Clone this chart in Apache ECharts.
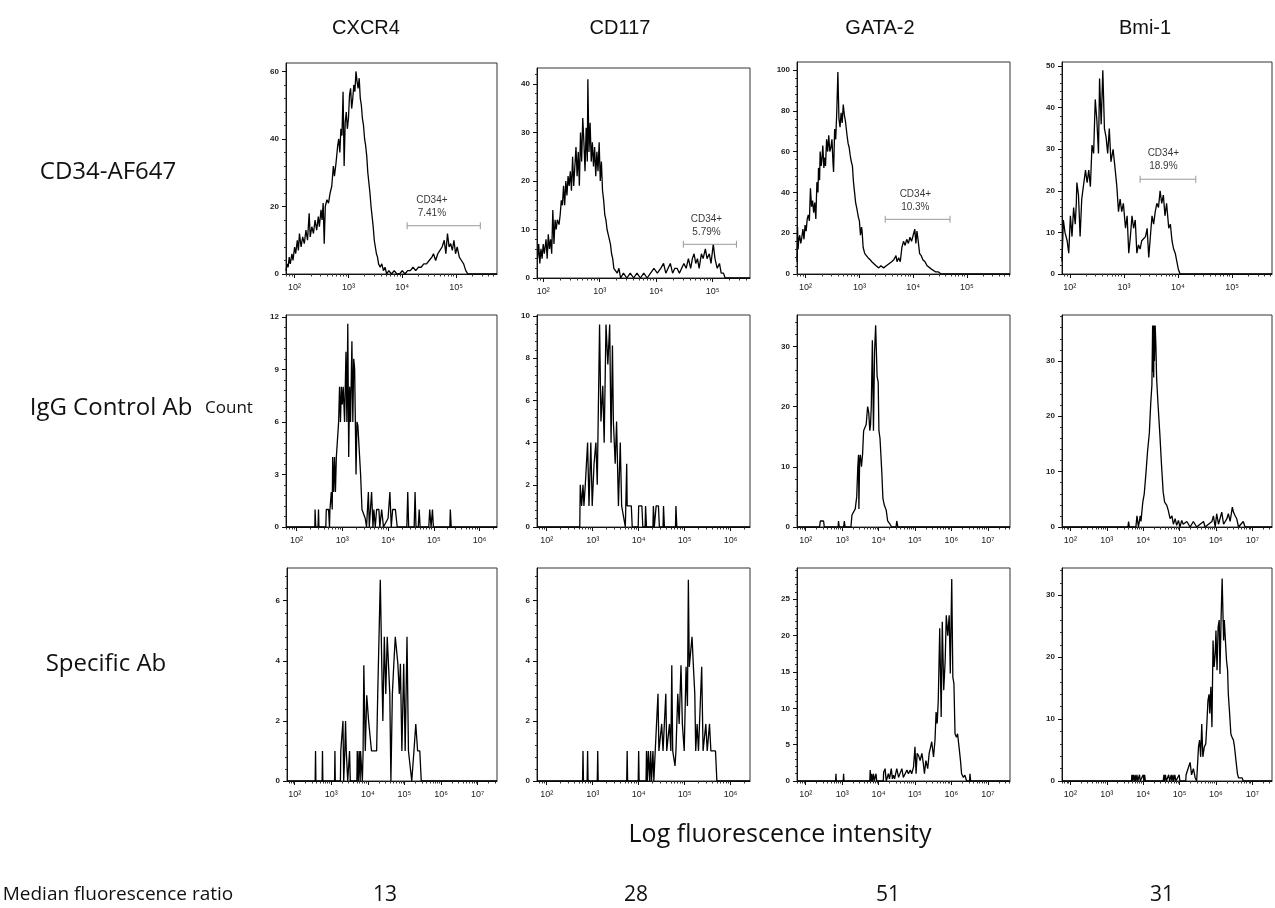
<!DOCTYPE html>
<html><head><meta charset="utf-8">
<script src="https://cdn.jsdelivr.net/npm/echarts@6/dist/echarts.min.js"></script>
<style>html,body{margin:0;padding:0;background:#fff}#c{width:1275px;height:908px}</style>
</head><body><div id="c"></div><script>
// ---------------- text ----------------
const markers = ['CXCR4', 'CD117', 'GATA-2', 'Bmi-1'];
const rowLabels = ['CD34-AF647', 'IgG Control Ab', 'Specific Ab'];
const medianRatio = ['13', '28', '51', '31'];
const yTitle = 'Count';
const xTitle = 'Log fluorescence intensity';
const ratioTitle = 'Median fluorescence ratio';

// ---------------- axis ticks (decade exponents for x, counts for y) ----------------
const yTicks = [[0,20,40,60],[0,10,20,30,40],[0,20,40,60,80,100],[0,10,20,30,40,50],
                [0,3,6,9,12],[0,2,4,6,8,10],[0,10,20,30],[0,10,20,30],
                [0,2,4,6],[0,2,4,6],[0,5,10,15,20,25],[0,10,20,30]];
const yMax = [62.5,43.3,103.9,51,12.1,10.05,35.2,38.3,7.09,7.09,29.3,34.4];
const yStep = [20,10,20,10,3,2,10,10,2,2,5,10];
const xDecades = [[2,3,4,5],[2,3,4,5],[2,3,4,5],[2,3,4,5],
                  [2,3,4,5,6],[2,3,4,5,6],[2,3,4,5,6,7],[2,3,4,5,6,7],
                  [2,3,4,5,6,7],[2,3,4,5,6],[2,3,4,5,6,7],[2,3,4,5,6,7]];
const xRange = [[1.84,5.76],[1.89,5.66],[1.84,5.80],[1.855,5.74],
                [1.77,6.38],[1.79,6.42],[1.76,7.61],[1.77,7.54],
                [1.79,7.53],[1.79,6.42],[1.76,7.61],[1.77,7.54]];

// ---------------- gates (row 1) ----------------
const gateLabels = ['CD34+\n7.41%', 'CD34+\n5.79%', 'CD34+\n10.3%', 'CD34+\n18.9%'];
const gateFrom = [4.09, 4.48, 3.48, 3.30];
const gateTo = [5.45, 5.42, 4.685, 4.33];
const gateCount = [14.3, 6.95, 26.8, 22.8];
const gateTextX = [4.55, 4.89, 4.04, 3.73];

// ---------------- histograms: [log10 intensity, count] ----------------
const cxcr4_cd34 = [[1.84,1],[1.86,3],[1.88,2],[1.90,5],[1.92,3],[1.95,6],[1.97,4],[2.00,8],[2.02,6],[2.05,10],[2.07,7],[2.09,12],[2.12,8],[2.15,11],[2.18,9],[2.21,13],[2.24,10],[2.27,18],[2.29,11],[2.32,14],[2.35,12],[2.38,16],[2.41,13],[2.44,17],[2.46,14],[2.49,19],[2.51,16],[2.53,21],[2.55,9],[2.57,20],[2.60,22],[2.63,21],[2.66,24],[2.69,26],[2.72,32],[2.74,29],[2.77,33],[2.80,38],[2.82,40],[2.84,36],[2.86,43],[2.88,41],[2.90,54],[2.92,32],[2.94,45],[2.96,48],[2.98,43],[3.00,46],[3.02,53],[3.04,55],[3.06,49],[3.08,52],[3.10,56],[3.12,54],[3.14,60],[3.16,57],[3.18,55],[3.20,58],[3.22,52],[3.24,50],[3.26,46],[3.28,44],[3.30,40],[3.32,38],[3.34,35],[3.36,30],[3.38,27],[3.40,24],[3.42,20],[3.44,17],[3.46,14],[3.48,10],[3.50,8],[3.52,6],[3.54,5],[3.56,3],[3.59,2],[3.62,3],[3.65,1],[3.68,2],[3.71,0],[3.75,1],[3.80,0],[3.85,1],[3.90,0],[3.95,0],[4.00,1],[4.05,0],[4.10,1],[4.15,1],[4.20,2],[4.25,1],[4.30,2],[4.35,2],[4.40,3],[4.45,3],[4.50,4],[4.55,5],[4.58,6],[4.62,4],[4.66,6],[4.70,7],[4.74,8],[4.78,10],[4.81,6],[4.84,12],[4.87,8],[4.90,9],[4.93,7],[4.96,10],[4.99,6],[5.02,8],[5.06,5],[5.10,4],[5.14,3],[5.18,1],[5.22,0],[5.76,0]];
const cd117_cd34 = [[1.90,4],[1.92,7],[1.94,3],[1.96,6],[1.98,4],[2.00,7],[2.02,5],[2.05,8],[2.07,4],[2.09,9],[2.11,6],[2.13,8],[2.15,5],[2.17,14],[2.19,7],[2.21,12],[2.23,10],[2.25,12],[2.28,11],[2.30,13],[2.32,16],[2.34,15],[2.36,19],[2.38,15],[2.40,20],[2.42,17],[2.44,21],[2.46,19],[2.48,22],[2.50,18],[2.52,25],[2.54,19],[2.56,23],[2.58,27],[2.60,21],[2.62,26],[2.64,19],[2.66,30],[2.68,24],[2.70,33],[2.72,28],[2.74,22],[2.76,31],[2.78,24],[2.79,41],[2.81,26],[2.83,32],[2.85,24],[2.87,28],[2.89,23],[2.91,27],[2.93,21],[2.95,26],[2.97,22],[2.99,28],[3.01,20],[3.03,24],[3.05,18],[3.07,16],[3.09,13],[3.11,12],[3.13,10],[3.15,9],[3.17,9],[3.19,7],[3.21,5],[3.23,4],[3.25,2],[3.28,2],[3.31,1],[3.34,2],[3.37,0],[3.42,1],[3.48,0],[3.54,1],[3.60,0],[3.66,1],[3.72,0],[3.78,1],[3.84,0],[3.90,1],[3.96,2],[4.02,1],[4.08,2],[4.13,3],[4.17,1],[4.21,2],[4.25,3],[4.29,1],[4.33,2],[4.37,2],[4.41,1],[4.45,2],[4.49,3],[4.53,2],[4.57,4],[4.61,2],[4.64,4],[4.67,5],[4.70,3],[4.73,4],[4.76,2],[4.80,5],[4.83,4],[4.87,6],[4.90,4],[4.94,5],[4.97,3],[5.01,7],[5.04,4],[5.08,2],[5.12,3],[5.15,1],[5.19,1],[5.22,0],[5.66,0]];
const gata2_cd34 = [[1.84,6],[1.85,23],[1.86,12],[1.87,16],[1.89,19],[1.91,15],[1.93,18],[1.95,22],[1.97,17],[1.99,24],[2.01,21],[2.03,27],[2.05,29],[2.07,26],[2.09,42],[2.11,33],[2.13,36],[2.15,30],[2.17,35],[2.19,27],[2.21,45],[2.23,40],[2.24,52],[2.26,46],[2.27,60],[2.29,53],[2.30,55],[2.32,63],[2.34,52],[2.35,57],[2.37,53],[2.39,66],[2.41,60],[2.43,68],[2.45,60],[2.47,62],[2.49,66],[2.51,54],[2.52,50],[2.54,71],[2.56,66],[2.58,80],[2.60,99],[2.62,76],[2.64,72],[2.66,79],[2.68,74],[2.70,83],[2.72,78],[2.74,75],[2.77,68],[2.79,64],[2.81,62],[2.83,58],[2.85,55],[2.87,53],[2.89,45],[2.91,40],[2.93,35],[2.96,31],[2.98,28],[3.00,26],[3.02,19],[3.04,23],[3.05,21],[3.07,13],[3.10,10],[3.13,9],[3.16,8],[3.20,7],[3.23,6],[3.27,5],[3.31,4],[3.36,3],[3.40,4],[3.45,3],[3.50,4],[3.55,5],[3.60,6],[3.64,7],[3.68,9],[3.70,6],[3.73,8],[3.76,6],[3.79,13],[3.82,16],[3.85,14],[3.88,17],[3.91,15],[3.94,18],[3.97,16],[4.00,19],[4.03,22],[4.05,15],[4.07,21],[4.09,17],[4.12,10],[4.15,9],[4.18,7],[4.22,6],[4.26,4],[4.31,3],[4.36,2],[4.42,1],[4.47,1],[4.52,0],[5.80,0]];
const bmi1_cd34 = [[1.855,3],[1.88,13],[1.91,10],[1.95,8],[1.98,5],[2.01,14],[2.04,9],[2.07,16],[2.10,12],[2.12,17],[2.13,22],[2.16,19],[2.19,9],[2.22,18],[2.25,21],[2.29,25],[2.32,22],[2.35,25],[2.38,21],[2.41,31],[2.44,29],[2.47,42],[2.50,37],[2.53,29],[2.55,47],[2.58,36],[2.61,49],[2.64,35],[2.67,33],[2.70,29],[2.73,35],[2.76,27],[2.80,30],[2.84,25],[2.87,21],[2.90,15],[2.93,18],[2.96,15],[2.99,17],[3.03,11],[3.06,14],[3.09,5],[3.12,9],[3.15,14],[3.18,11],[3.21,13],[3.24,5],[3.27,7],[3.30,6],[3.33,8],[3.40,9],[3.43,11],[3.46,4],[3.52,14],[3.55,12],[3.58,15],[3.61,17],[3.64,16],[3.67,20],[3.70,17],[3.73,19],[3.76,14],[3.79,17],[3.83,11],[3.86,12],[3.89,8],[3.92,6],[3.95,5],[3.98,3],[4.01,1],[4.04,0],[5.74,0]];
const cxcr4_igg = [[1.77,0],[2.40,0],[2.405,1],[2.42,0],[2.47,0],[2.48,1],[2.49,0],[2.64,0],[2.65,1],[2.70,1],[2.72,0],[2.73,1],[2.76,2],[2.78,1],[2.79,4],[2.81,2],[2.83,4],[2.85,2],[2.87,4],[2.89,4],[2.92,6],[2.94,8],[2.96,6],[2.98,8],[3.00,7],[3.02,8],[3.05,6],[3.08,10],[3.10,6],[3.12,11.6],[3.14,4],[3.16,8],[3.18,6],[3.21,10.6],[3.23,6],[3.25,9.6],[3.27,9],[3.30,3],[3.32,6],[3.34,5.8],[3.37,5.8],[3.40,3],[3.43,1],[3.47,1],[3.50,0.5],[3.53,0],[3.57,2],[3.59,0],[3.64,2],[3.67,0],[3.69,1],[3.72,0],[3.75,1],[3.80,1],[3.82,0],[3.86,1],[3.90,0],[4.00,0.5],[4.04,2],[4.07,0],[4.10,1],[4.16,1],[4.20,0],[4.41,0],[4.43,2],[4.45,0],[4.57,0],[4.59,2],[4.61,0],[4.66,0],[4.68,1],[4.70,0],[4.89,0],[4.91,1],[4.94,0],[4.97,1],[4.99,0],[5.35,0],[5.36,1],[5.38,0],[6.38,0]];
const cd117_igg = [[1.79,0],[2.72,0],[2.73,2],[2.76,1],[2.79,2],[2.81,1],[2.84,2],[2.89,4],[2.92,1],[2.96,4],[2.99,1],[3.03,3],[3.07,4],[3.10,2],[3.15,9.6],[3.18,5],[3.22,6.7],[3.25,4],[3.29,9.6],[3.33,7.7],[3.37,9.6],[3.40,4],[3.43,8.6],[3.45,5],[3.49,3],[3.52,5],[3.56,1],[3.60,4],[3.63,1],[3.67,1],[3.71,0],[3.74,3],[3.75,1],[3.84,1],[3.86,0],[3.99,0],[4.00,1],[4.07,1],[4.09,0],[4.14,0],[4.15,1],[4.17,0],[4.31,0],[4.32,1],[4.34,0],[4.37,0],[4.38,1],[4.43,1],[4.45,0],[4.53,0],[4.54,1],[4.56,0],[4.80,0],[4.81,1],[4.83,0],[6.42,0]];
const gata2_igg = [[1.76,0],[2.38,0],[2.40,1],[2.45,1],[2.49,1],[2.51,0],[2.89,0],[2.90,1],[2.92,0],[3.04,0],[3.06,1],[3.08,0],[3.24,0],[3.27,2],[3.31,2],[3.36,3],[3.40,5],[3.43,10],[3.45,12],[3.46,3],[3.48,11],[3.50,12],[3.53,10],[3.56,12],[3.59,16],[3.63,16],[3.66,17],[3.70,20],[3.73,19],[3.76,16],[3.78,17],[3.80,20],[3.83,31],[3.86,16],[3.89,29],[3.92,33.5],[3.96,25],[3.99,24],[4.01,16],[4.04,14.7],[4.09,9],[4.12,4.7],[4.16,3.6],[4.21,2.8],[4.25,1],[4.31,0.5],[4.36,0],[4.48,0],[4.50,1],[4.53,0],[7.61,0]];
const bmi1_igg = [[1.77,0],[3.58,0],[3.60,1],[3.62,0],[3.80,0],[3.83,2],[3.87,0],[3.92,2],[3.94,1],[3.99,4.5],[4.03,6],[4.08,10],[4.12,13.6],[4.17,17],[4.21,22.6],[4.24,25.6],[4.26,36.4],[4.27,28],[4.28,36.4],[4.29,27],[4.30,36.4],[4.31,30],[4.33,36.4],[4.35,32.8],[4.37,26.8],[4.41,22],[4.46,16.6],[4.50,11.7],[4.55,6.3],[4.59,4.5],[4.65,3.9],[4.69,3],[4.74,1.5],[4.79,2],[4.83,0.5],[4.88,1.5],[4.92,0.3],[4.97,1.2],[5.01,0],[5.06,1.2],[5.10,0.5],[5.20,1],[5.29,0],[5.38,1],[5.47,0],[5.66,1],[5.70,0],[5.89,1],[5.93,2],[5.98,0],[6.02,2.4],[6.07,0.5],[6.16,2.7],[6.21,0.5],[6.30,1.5],[6.34,2.4],[6.39,1],[6.45,3.6],[6.48,2.7],[6.53,2],[6.57,1.5],[6.62,0],[6.75,1],[6.80,0],[7.54,0]];
const cxcr4_specific = [[1.79,0],[2.56,0],[2.57,1],[2.58,0],[2.75,0],[2.76,1],[2.77,0],[3.09,0],[3.10,1],[3.11,0],[3.25,0],[3.26,1],[3.29,1],[3.32,2],[3.34,0],[3.37,1],[3.39,2],[3.41,1],[3.45,0],[3.50,1],[3.52,0],[3.70,0],[3.71,1],[3.74,0],[3.76,1],[3.79,0],[3.80,1],[3.83,1],[3.85,0],[3.87,1],[3.89,3.85],[3.93,1],[3.97,2.85],[4.02,2],[4.06,2],[4.10,1],[4.13,1],[4.17,1],[4.24,1],[4.27,2.9],[4.34,6.7],[4.38,3.9],[4.41,2],[4.45,4.8],[4.49,2.9],[4.53,4.8],[4.56,4.8],[4.60,2.9],[4.63,0],[4.67,2.9],[4.71,3.9],[4.75,4.8],[4.79,4.8],[4.82,3.9],[4.86,2.9],[4.89,3.9],[4.93,1],[4.98,3.9],[5.02,1],[5.07,4.8],[5.11,1],[5.15,1],[5.20,0],[5.26,1],[5.31,1.9],[5.36,1],[5.42,1],[5.46,0],[7.53,0]];
const cd117_specific = [[1.79,0],[2.78,0],[2.79,1],[2.80,0],[2.88,0],[2.89,1],[2.90,0],[3.10,0],[3.11,1],[3.12,0],[3.74,0],[3.75,1],[3.76,0],[3.99,0],[4.00,1],[4.01,0],[4.16,0],[4.17,1],[4.19,0],[4.21,1],[4.24,0],[4.26,1],[4.28,0],[4.31,1],[4.33,0],[4.36,1],[4.38,1],[4.42,2.9],[4.44,1],[4.45,1],[4.50,1.9],[4.53,1],[4.54,1],[4.59,2.9],[4.61,1],[4.63,1],[4.67,1.9],[4.70,1],[4.72,3.85],[4.74,1],[4.76,1],[4.79,0.5],[4.81,1],[4.85,2.9],[4.88,1.9],[4.92,3.85],[4.95,1.9],[4.99,1],[5.03,3.8],[5.06,2.5],[5.08,6.7],[5.10,3.8],[5.13,3.8],[5.16,4.8],[5.19,3.8],[5.22,2.9],[5.24,1],[5.27,1.9],[5.30,1],[5.33,1],[5.37,3.8],[5.40,1],[5.46,1.9],[5.49,1],[5.54,1.9],[5.57,1],[5.62,1],[5.67,1],[5.70,0],[6.42,0]];
const gata2_specific = [[1.76,0],[2.82,0],[2.83,1],[2.84,0],[3.03,0],[3.04,1],[3.05,0],[3.76,0],[3.77,1.5],[3.79,0],[3.81,1],[3.83,0],[3.86,1],[3.88,0],[3.93,1],[3.95,0],[4.13,0],[4.14,1.2],[4.18,1.7],[4.21,0],[4.27,1],[4.30,0.3],[4.35,1.7],[4.38,0.3],[4.41,0.8],[4.44,0.3],[4.50,1.7],[4.55,0.5],[4.64,1.7],[4.68,0.5],[4.73,1],[4.78,1.5],[4.82,1],[4.87,1.5],[4.91,1],[4.96,1.9],[5.00,4.7],[5.03,1],[5.06,3.8],[5.10,3.5],[5.14,2.8],[5.19,3.8],[5.23,2.4],[5.26,1],[5.30,2.8],[5.35,1.7],[5.39,3.8],[5.43,4.7],[5.46,5.4],[5.51,3.3],[5.55,5.6],[5.58,9.5],[5.61,7.9],[5.64,11.1],[5.68,21],[5.72,8.8],[5.75,21.9],[5.79,12.5],[5.83,16.6],[5.86,22.8],[5.90,20],[5.94,22.8],[5.97,14.8],[6.01,27.8],[6.04,14.3],[6.07,13.4],[6.10,6.5],[6.14,6],[6.17,6.5],[6.21,4.7],[6.25,2.8],[6.28,1],[6.33,0.5],[6.37,0.8],[6.42,0],[6.50,0],[6.51,1],[6.53,0],[7.61,0]];
const bmi1_specific = [[1.77,0],[3.68,0],[3.69,1],[3.71,0],[3.73,1],[3.76,0],[3.78,1],[3.80,0],[3.83,1],[3.85,0],[3.90,1],[3.92,0],[4.00,1],[4.02,0],[4.04,1],[4.06,0],[4.55,0],[4.57,1],[4.59,0],[4.61,1],[4.64,0],[4.70,1],[4.73,0],[4.77,1],[4.79,0],[4.82,1],[4.84,0],[4.87,1],[4.90,0],[4.99,1],[5.01,0],[5.17,0],[5.18,1],[5.25,2.3],[5.29,3],[5.33,1],[5.38,2],[5.43,0.5],[5.47,0],[5.52,5.5],[5.55,6.6],[5.58,3.9],[5.61,9.2],[5.64,3.9],[5.68,5.5],[5.72,6],[5.75,9.2],[5.78,13],[5.81,14],[5.83,10.9],[5.86,15.2],[5.89,8.7],[5.92,22.7],[5.95,18.4],[5.98,20.6],[6.00,24.3],[6.03,17.9],[6.06,24.9],[6.09,26],[6.11,17.3],[6.14,26],[6.17,32.7],[6.21,22.7],[6.23,26],[6.26,22.7],[6.29,19.5],[6.32,17.9],[6.34,14],[6.37,11.4],[6.41,7.6],[6.44,7.1],[6.48,6.6],[6.51,5.5],[6.55,3.3],[6.59,1.2],[6.62,0.5],[6.66,0.8],[6.72,0.5],[6.75,0],[7.54,0]];

const histograms = [cxcr4_cd34, cd117_cd34, gata2_cd34, bmi1_cd34,
                    cxcr4_igg, cd117_igg, gata2_igg, bmi1_igg,
                    cxcr4_specific, cd117_specific, gata2_specific, bmi1_specific];

// ---------------- layout ----------------
const gridBoxes = [[286,63,211,211],[537,68,213,210],[797,62,213,212],[1062,62,210,212],
                   [286,315,211,212],[537,315,213,212],[797,315,213,212],[1062,315,210,212],
                   [287,568,210,213],[537,568,213,213],[797,568,213,213],[1062,568,210,213]];
const SUP = {2:'\u00B2',3:'\u00B3',4:'\u2074',5:'\u2075',6:'\u2076',7:'\u2077'};
const axisFont = 'Liberation Sans, DejaVu Sans, Arial, sans-serif';

const chart = echarts.init(document.getElementById('c'), null, {renderer: 'canvas'});
const grid = [], xAxis = [], yAxis = [], series = [];
gridBoxes.forEach((b, i) => {
  grid.push({left: b[0], top: b[1], width: b[2], height: b[3], show: true,
             borderColor: '#333', borderWidth: 1, backgroundColor: 'transparent', containLabel: false});
  const [lo, hi] = xRange[i];
  const minor = [];
  for (let n = 1; n <= 7; n++) for (let k = 2; k <= 9; k++) {
    const v = n + Math.log10(k);
    if (v > lo && v < hi) minor.push(v);
  }
  xAxis.push({gridIndex: i, type: 'value', min: lo, max: hi, position: 'bottom',
    axisLine: {show: true, lineStyle: {color: '#111', width: 1}},
    axisTick: {show: true, length: 4, customValues: xDecades[i], lineStyle: {color: '#111'}},
    axisLabel: {show: true, customValues: xDecades[i], margin: 9, fontSize: 9, color: '#222',
                fontFamily: axisFont, formatter: v => '10' + SUP[Math.round(v)]},
    splitLine: {show: false}});
  xAxis.push({gridIndex: i, type: 'value', min: lo, max: hi, position: 'bottom',
    axisLine: {show: false},
    axisTick: {show: true, length: 2.5, customValues: minor, lineStyle: {color: '#333'}},
    axisLabel: {show: false}, splitLine: {show: false}});
  yAxis.push({gridIndex: i, type: 'value', min: 0, max: yMax[i], interval: yStep[i],
    axisLine: {show: true, lineStyle: {color: '#111', width: 1}},
    axisTick: {show: true, length: 4, customValues: yTicks[i], lineStyle: {color: '#111'}},
    minorTick: {show: true, splitNumber: 5, length: 2, lineStyle: {color: '#333'}},
    axisLabel: {show: true, customValues: yTicks[i], margin: 7, fontSize: 8, fontWeight: 'bold',
                color: '#222', fontFamily: axisFont},
    splitLine: {show: false}, minorSplitLine: {show: false}});
  series.push({type: 'line', xAxisIndex: 2 * i, yAxisIndex: i, data: histograms[i],
    showSymbol: false, symbol: 'none', animation: false, clip: true,
    lineStyle: {color: '#000', width: 1.3}});
});

// gates in row 1
for (let i = 0; i < 4; i++) {
  series.push({type: 'line', xAxisIndex: 2 * i, yAxisIndex: i, animation: false,
    data: [[gateFrom[i], gateCount[i]], [gateTo[i], gateCount[i]]],
    symbol: 'rect', symbolSize: [1, 7], showSymbol: true,
    itemStyle: {color: '#999'}, lineStyle: {color: '#999', width: 1}});
  series.push({type: 'scatter', xAxisIndex: 2 * i, yAxisIndex: i, animation: false,
    data: [[gateTextX[i], gateCount[i]]], symbolSize: 0, itemStyle: {color: '#000'},
    label: {show: true, position: 'top', distance: 6, formatter: gateLabels[i],
            fontSize: 10, lineHeight: 13, color: '#000', fontFamily: axisFont, align: 'center'}});
}

// text
const mainFont = '"Open Sans", "Noto Sans", sans-serif';
const graphic = [];
const colX = [366, 620, 880, 1145];
markers.forEach((t, i) => graphic.push({type: 'text', x: colX[i], y: 28,
  style: {text: t, fontSize: 20, fontFamily: 'Liberation Sans, Arial, sans-serif', fill: '#111',
          textAlign: 'center', textVerticalAlign: 'middle'}}));
const rowY = [172, 408, 664], rowX = [108, 111, 106];
rowLabels.forEach((t, i) => graphic.push({type: 'text', x: rowX[i], y: rowY[i],
  style: {text: t, fontSize: 24, fontFamily: mainFont, fill: '#111', textAlign: 'center', textVerticalAlign: 'middle'}}));
graphic.push({type: 'text', x: 229, y: 408, style: {text: yTitle, fontSize: 17, fontFamily: mainFont,
  fill: '#111', textAlign: 'center', textVerticalAlign: 'middle'}});
graphic.push({type: 'text', x: 780, y: 835, style: {text: xTitle, fontSize: 25, fontFamily: mainFont,
  fill: '#111', textAlign: 'center', textVerticalAlign: 'middle'}});
graphic.push({type: 'text', x: 118, y: 895, style: {text: ratioTitle, fontSize: 19, fontFamily: mainFont,
  fill: '#111', textAlign: 'center', textVerticalAlign: 'middle'}});
const ratioX = [385, 636, 888, 1162];
medianRatio.forEach((t, i) => graphic.push({type: 'text', x: ratioX[i], y: 895,
  style: {text: t, fontSize: 21, fontFamily: mainFont, fill: '#111', textAlign: 'center', textVerticalAlign: 'middle'}}));

chart.setOption({backgroundColor: '#fff', animation: false, grid, xAxis, yAxis, series, graphic});
</script></body></html>
